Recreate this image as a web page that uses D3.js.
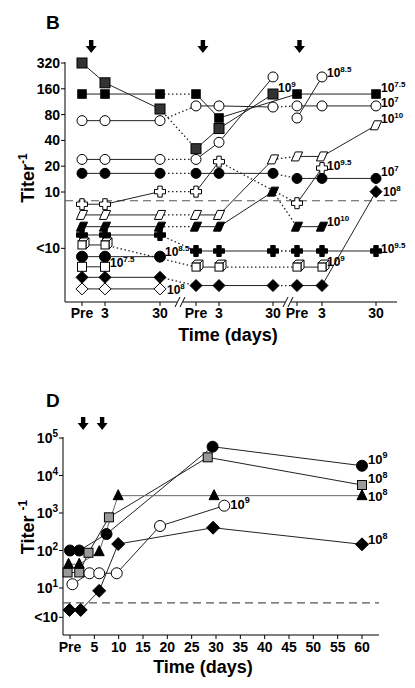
<!DOCTYPE html>
<html><head><meta charset="utf-8">
<script src="https://cdn.jsdelivr.net/npm/d3@7"></script>
<style>
body{margin:0;background:#fff}
svg{display:block}
text{font-family:Arial,"Liberation Sans",sans-serif;font-weight:bold;fill:#000}
</style></head>
<body><svg id="c" width="415" height="688"></svg>
<script>
// ================= PANEL B DATA =================
const bSlotLabels = ["Pre","3","30","Pre","3","30","Pre","3","30"];
const bTickValues = [320,160,80,40,20,10];
const bTickLabels = ["320","160","80","40","20","10"];
const bLowTickValue = 2.2, bLowTickLabel = "<10";
const bThreshold = 7.9;
// values per slot (null = not measured)
const bShadedSq   = [320,188,93,32,55,139,null,null,null];
const bFilledSq   = [139,139,139,139,73,null,139,null,139];
const bOpenCircA  = [68,68,68,101,101,98,101,101,101];
const bOpenCircB  = [24,24,24,24,38,220,null,null,null];
const bOpenCircC  = [null,null,null,null,null,null,73,220,null];
const bFilledCircA= [16.5,16.5,16.5,16.5,16.5,16.5,14.4,14.4,14.4];
const bOpenCross  = [7.2,7.2,10.1,10.1,22.6,null,7.4,19,null];
const bOpenPara   = [5.4,5.4,5.4,5.4,5.4,24,26,26,60];
const bFilledPara = [3.94,3.94,3.94,3.94,3.94,10.1,3.94,3.94,null];
const bFilledCross= [3.15,3.15,3.15,2.05,2.05,2.05,2.05,2.05,2.05];
const bOpenCube   = [2.41,2.41,null,1.33,1.33,null,1.33,1.33,null];
const bFilledCircB= [1.76,1.76,1.76,null,null,null,null,null,null];
const bOpenSq     = [1.34,1.34,null,null,null,null,null,null,null];
const bFilledDiam = [1.01,1.01,1.01,0.81,0.81,0.81,0.81,0.81,10.1];
const bOpenDiam   = [0.74,0.74,0.74,null,null,null,null,null,null];
const bArrowSlots = [0.4,3.3,6.1];

const bSeries = [
  {v:bShadedSq,   sym:"square", fill:"#333", size:10, label:["10","9"], ldy:-2},
  {v:bFilledSq,   sym:"square", fill:"#000", size:8.5, label:["10","7.5"], solidAcross:[4], ldy:-2},
  {v:bOpenCircA,  sym:"circle", fill:"#fff", size:5, label:["10","7"], ldy:1},
  {v:bOpenCircB,  sym:"circle", fill:"#fff", size:5, label:null},
  {v:bOpenCircC,  sym:"circle", fill:"#fff", size:5, label:["10","8.5"], ldy:0},
  {v:bFilledCircA,sym:"circle", fill:"#000", size:5, label:["10","7"], ldy:-2},
  {v:bOpenCross,  sym:"cross",  fill:"#fff", size:11, label:["10","9.5"], ldy:2},
  {v:bOpenPara,   sym:"para",   fill:"#fff", size:9, label:["10","10"], ldy:-2},
  {v:bFilledPara, sym:"para",   fill:"#000", size:9, label:["10","10"], ldy:-1},
  {v:bFilledCross,sym:"cross",  fill:"#000", size:11, label:["10","9.5"], ldy:2},
  {v:bOpenCube,   sym:"cube",   fill:"#fff", size:8, label:["10","9"], ldy:-1},
  {v:bFilledCircB,sym:"circle", fill:"#000", size:5.5, label:["10","8.5"], ldy:-1},
  {v:bOpenSq,     sym:"square", fill:"#fff", size:9, label:["10","7.5"], ldy:0},
  {v:bFilledDiam, sym:"diamond",fill:"#000", size:6, label:["10","8"], ldy:4, ldx:2},
  {v:bOpenDiam,   sym:"diamond",fill:"#fff", size:6, label:["10","8"], ldy:5, ldx:2}
];

// ================= PANEL D DATA =================
const dTickValues = [1e5,1e4,1e3,1e2,1e1];
const dTickExps = ["5","4","3","2","1"];
const dLowTickValue = 1.65, dLowTickLabel = "<10";
const dThreshold = 4.0;
const dXTicks = [0,5,10,15,20,25,30,35,40,45,50,55,60];
const dXTickLabels = ["Pre","5","10","15","20","25","30","35","40","45","50","55","60"];
const dArrowDays = [2.7,6.6];
const dCircDays = [0,1.9,7.5,29.3,60];          const dCircVals = [100,100,275,58600,18200];
const dSqDays   = [-0.5,1.9,3.8,8,28.3,60];     const dSqVals   = [26,26,87,767,30500,5580];
const dTriDays  = [-0.3,1.9,6,9.9,29.6,60];     const dTriVals  = [43,43,93,2900,2900,2900];
const dOCircDays= [0.5,4,6,9.6,18.5,31.7];      const dOCircVals= [12.6,24.7,24.7,24.7,450,1567];
const dDiamDays = [-0.1,2.2,6,9.9,29.4,60];     const dDiamVals = [2.6,2.6,8.4,149,405,146];

const dSeries = [
  {d:dCircDays, v:dCircVals, sym:"circle", fill:"#000", size:5.5, label:["10","9"], line:"#222", ldy:-2},
  {d:dSqDays,   v:dSqVals,   sym:"square", fill:"#999", size:9, label:["10","8"], line:"#222", ldy:-2},
  {d:dTriDays,  v:dTriVals,  sym:"triangle", fill:"#000", size:10, label:["10","8"], line:"#666", ldy:5},
  {d:dOCircDays,v:dOCircVals,sym:"circle", fill:"#fff", size:5.5, label:["10","9"], line:"#222", ldy:3},
  {d:dDiamDays, v:dDiamVals, sym:"diamond",fill:"#000", size:6.5, label:["10","8"], line:"#222", ldy:0}
];

// ================= DRAWING =================
const svg = d3.select("#c");

function symbol(g, sym, fill, x, y, s){
  let el;
  if(sym==="circle"){ el=g.append("circle").attr("cx",x).attr("cy",y).attr("r",s); }
  else if(sym==="square"){ el=g.append("rect").attr("x",x-s/2).attr("y",y-s/2).attr("width",s).attr("height",s); }
  else if(sym==="diamond"){ el=g.append("path").attr("d",`M${x},${y-s}L${x+s},${y}L${x},${y+s}L${x-s},${y}Z`); }
  else if(sym==="triangle"){ el=g.append("path").attr("d",`M${x},${y-s*0.6}L${x+s/2},${y+s*0.4}L${x-s/2},${y+s*0.4}Z`); }
  else if(sym==="para"){ const w=s*0.8,h=s,k=2; el=g.append("path").attr("d",`M${x-w/2+k},${y-h/2}L${x+w/2+k},${y-h/2}L${x+w/2-k},${y+h/2}L${x-w/2-k},${y+h/2}Z`); }
  else if(sym==="cross"){ const a=s/2,b=s*0.2; el=g.append("path").attr("d",`M${x-b},${y-a}L${x+b},${y-a}L${x+b},${y-b}L${x+a},${y-b}L${x+a},${y+b}L${x+b},${y+b}L${x+b},${y+a}L${x-b},${y+a}L${x-b},${y+b}L${x-a},${y+b}L${x-a},${y-b}L${x-b},${y-b}Z`); }
  else if(sym==="cube"){
    const h=s/2,dpt=3;
    g.append("path").attr("d",`M${x-h},${y-h}L${x-h+dpt},${y-h-dpt}L${x+h+dpt},${y-h-dpt}L${x+h+dpt},${y+h-dpt}L${x+h},${y+h}L${x+h},${y-h}Z`).attr("fill","#fff").attr("stroke","#000");
    g.append("path").attr("d",`M${x+h},${y-h}L${x+h+dpt},${y-h-dpt}`).attr("stroke","#000");
    el=g.append("rect").attr("x",x-h).attr("y",y-h).attr("width",s).attr("height",s);
  }
  el.attr("stroke","#000").attr("stroke-width",1).attr("fill",fill);
}
function expLabel(g,x,y,base,exp,fs,efs){
  const t=g.append("text").attr("x",x).attr("y",y).attr("font-size",fs);
  t.append("tspan").text(base);
  t.append("tspan").attr("dy",-fs*0.42).attr("font-size",efs).text(exp);
}
function downArrow(g,x,y){
  g.append("path").attr("d",`M${x-2.2},${y}L${x+2.2},${y}L${x+2.2},${y+6}L${x+5.5},${y+6}L${x},${y+13}L${x-5.5},${y+6}L${x-2.2},${y+6}Z`).attr("fill","#000");
}

// ---------- Panel B ----------
const gB = svg.append("g");
const xB = d3.scaleOrdinal().domain(d3.range(9)).range([82,105,160,196,219,273,297,322,376]);
const yB = d3.scaleLog().base(2).domain([10,320]).range([192,63]);
const bLeft=65, bBottom=302, bRight=397, bTop=62;

gB.append("text").attr("x",46).attr("y",29).attr("font-size",19).text("B");
bArrowSlots.forEach(s=>{ const i=Math.floor(s); const f=s-i; downArrow(gB, xB(i)+(xB(i+1)-xB(i))*f, 40); });

gB.append("line").attr("x1",bLeft).attr("x2",bLeft).attr("y1",bTop).attr("y2",bBottom).attr("stroke","#000");
gB.append("line").attr("x1",bLeft).attr("x2",bRight).attr("y1",bBottom).attr("y2",bBottom).attr("stroke","#000");
bTickValues.forEach((v,i)=>{
  gB.append("line").attr("x1",bLeft-4).attr("x2",bLeft).attr("y1",yB(v)).attr("y2",yB(v)).attr("stroke","#000");
  gB.append("text").attr("x",bLeft-5).attr("y",yB(v)+5).attr("font-size",14).attr("text-anchor","end").text(bTickLabels[i]);
});
gB.append("line").attr("x1",bLeft-4).attr("x2",bLeft).attr("y1",yB(bLowTickValue)).attr("y2",yB(bLowTickValue)).attr("stroke","#000");
gB.append("text").attr("x",bLeft-5).attr("y",yB(bLowTickValue)+5).attr("font-size",14).attr("text-anchor","end").text(bLowTickLabel);
bSlotLabels.forEach((l,i)=>{
  gB.append("line").attr("x1",xB(i)).attr("x2",xB(i)).attr("y1",bBottom).attr("y2",bBottom+4).attr("stroke","#000");
  gB.append("text").attr("x",xB(i)).attr("y",bBottom+16).attr("font-size",14).attr("text-anchor","middle").text(l);
});
[180,288].forEach(bx=>{
  gB.append("rect").attr("x",bx-3).attr("y",bBottom-2).attr("width",6).attr("height",4).attr("fill","#fff");
  [-2.5,2.5].forEach(o=>gB.append("line").attr("x1",bx+o-2.5).attr("x2",bx+o+2.5).attr("y1",bBottom+5).attr("y2",bBottom-5).attr("stroke","#000"));
});
gB.append("text").attr("x",228).attr("y",341).attr("font-size",18).attr("text-anchor","middle").text("Time (days)");
const tB = gB.append("text").attr("transform","translate(34,178) rotate(-90)").attr("font-size",18).attr("text-anchor","middle");
tB.append("tspan").text("Titer");
tB.append("tspan").attr("dy",-7).attr("font-size",12).text("-1");
gB.append("line").attr("x1",bLeft).attr("x2",bRight).attr("y1",yB(bThreshold)).attr("y2",yB(bThreshold))
  .attr("stroke","#555").attr("stroke-width",1.2).attr("stroke-dasharray","8,5");

const crossesBreak=(a,b)=> (a<=2&&b>=3)||(a<=5&&b>=6);
bSeries.forEach(s=>{
  const pts = s.v.map((v,i)=>v==null?null:[i,v]).filter(p=>p);
  for(let k=1;k<pts.length;k++){
    const a=pts[k-1],b=pts[k];
    const dotted = crossesBreak(a[0],b[0]) && !(s.solidAcross||[]).includes(a[0]);
    gB.append("line").attr("x1",xB(a[0])).attr("y1",yB(a[1])).attr("x2",xB(b[0])).attr("y2",yB(b[1]))
      .attr("stroke","#222").attr("stroke-width",dotted?1.3:1).attr("stroke-dasharray",dotted?"1.5,2.5":null);
  }
});
bSeries.forEach(s=>{
  const pts = s.v.map((v,i)=>v==null?null:[i,v]).filter(p=>p);
  pts.forEach(p=>symbol(gB,s.sym,s.fill,xB(p[0]),yB(p[1]),s.size));
  if(s.label){
    const last=pts[pts.length-1];
    expLabel(gB,xB(last[0])+5+(s.ldx||0),yB(last[1])+(s.ldy||0),s.label[0],s.label[1],12,8);
  }
});

// ---------- Panel D ----------
const gD = svg.append("g");
const xD = d3.scaleLinear().domain([0,60]).range([70,362]);
const yD = d3.scaleLog().domain([10,1e5]).range([588,438]);
const dLeft=63, dBottom=635, dRight=379, dTop=437;
gD.append("text").attr("x",46).attr("y",407).attr("font-size",19).text("D");
dArrowDays.forEach(d=>downArrow(gD,xD(d),417));
gD.append("line").attr("x1",dLeft).attr("x2",dLeft).attr("y1",dTop).attr("y2",dBottom).attr("stroke","#000");
gD.append("line").attr("x1",dLeft).attr("x2",dRight).attr("y1",dBottom).attr("y2",dBottom).attr("stroke","#000");
dTickValues.forEach((v,i)=>{
  gD.append("line").attr("x1",dLeft-4).attr("x2",dLeft).attr("y1",yD(v)).attr("y2",yD(v)).attr("stroke","#000");
  const t=gD.append("text").attr("x",dLeft-5).attr("y",yD(v)+5).attr("font-size",14).attr("text-anchor","end");
  t.append("tspan").text("10");
  t.append("tspan").attr("dy",-6).attr("font-size",10).text(dTickExps[i]);
});
gD.append("line").attr("x1",dLeft-4).attr("x2",dLeft).attr("y1",yD(dLowTickValue)).attr("y2",yD(dLowTickValue)).attr("stroke","#000");
gD.append("text").attr("x",dLeft-5).attr("y",yD(dLowTickValue)+5).attr("font-size",14).attr("text-anchor","end").text(dLowTickLabel);
dXTicks.forEach((t,i)=>{
  gD.append("line").attr("x1",xD(t)).attr("x2",xD(t)).attr("y1",dBottom).attr("y2",dBottom+4).attr("stroke","#000");
  gD.append("text").attr("x",xD(t)).attr("y",dBottom+17).attr("font-size",14).attr("text-anchor","middle").text(dXTickLabels[i]);
});
gD.append("text").attr("x",203).attr("y",673).attr("font-size",18).attr("text-anchor","middle").text("Time (days)");
const tD = gD.append("text").attr("transform","translate(34,527) rotate(-90)").attr("font-size",18).attr("text-anchor","middle");
tD.append("tspan").text("Titer ");
tD.append("tspan").attr("dy",-7).attr("font-size",12).text("-1");
gD.append("line").attr("x1",dLeft).attr("x2",dRight).attr("y1",yD(dThreshold)).attr("y2",yD(dThreshold))
  .attr("stroke","#555").attr("stroke-width",1.2).attr("stroke-dasharray","8,5");
const lineD = d3.line().x(p=>xD(p[0])).y(p=>yD(p[1]));
dSeries.forEach(s=>{
  const pts=s.d.map((d,i)=>[d,s.v[i]]);
  gD.append("path").attr("d",lineD(pts)).attr("fill","none").attr("stroke",s.line).attr("stroke-width",1);
});
dSeries.forEach(s=>{
  const pts=s.d.map((d,i)=>[d,s.v[i]]);
  pts.forEach(p=>symbol(gD,s.sym,s.fill,xD(p[0]),yD(p[1]),s.size));
  const last=pts[pts.length-1];
  expLabel(gD,xD(last[0])+6,yD(last[1])+(s.ldy||0),s.label[0],s.label[1],13,9);
});
</script></body></html>
